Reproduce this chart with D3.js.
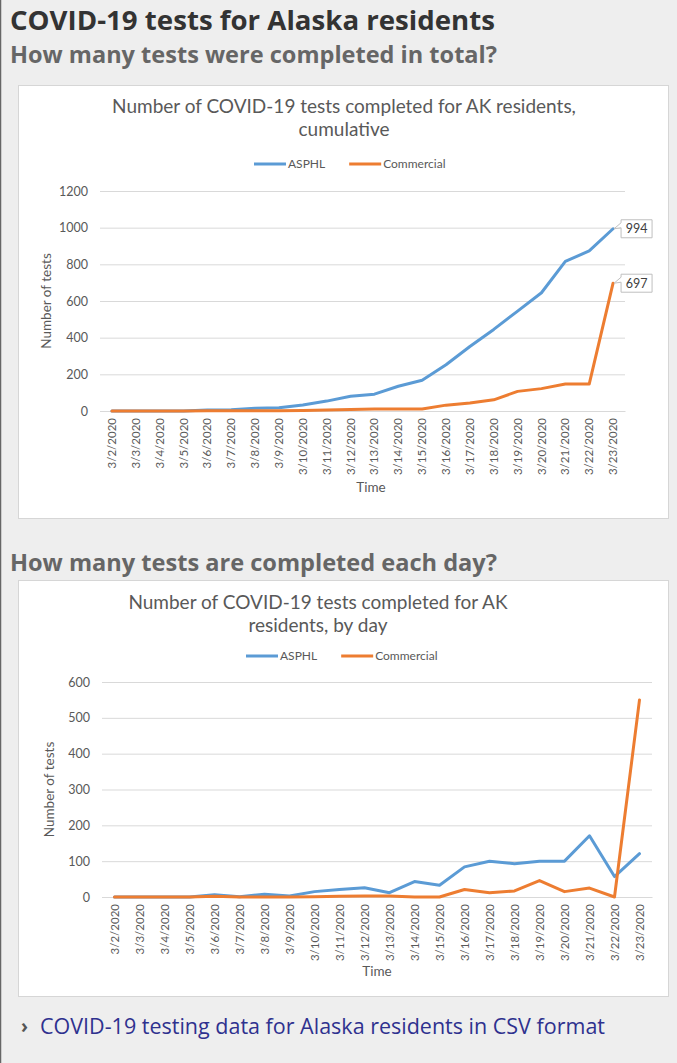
<!DOCTYPE html>
<html>
<head>
<meta charset="utf-8">
<script src="https://cdn.jsdelivr.net/npm/d3@7/dist/d3.min.js"></script>
<style>
  body { margin: 0; background: #eeeeee; }
  svg { display: block; }
</style>
</head>
<body>
<div id="page"></div>
<script>
// Data
const dates = ["3/2/2020","3/3/2020","3/4/2020","3/5/2020","3/6/2020","3/7/2020","3/8/2020","3/9/2020",
  "3/10/2020","3/11/2020","3/12/2020","3/13/2020","3/14/2020","3/15/2020","3/16/2020","3/17/2020",
  "3/18/2020","3/19/2020","3/20/2020","3/21/2020","3/22/2020","3/23/2020"]

const asphlTotal = [0,0,0,0,6,7,15,18,33,54,80,92,135,168,252,352,445,545,645,816,873,994]
const commercialTotal = [0,0,0,0,2,2,2,2,3,5,8,11,11,11,32,44,61,107,122,147,147,697]

const asphlDaily = [0,0,0,0,6,1,8,3,15,21,26,12,43,33,84,100,93,100,100,171,57,121]
const commercialDaily = [0,0,0,0,2,0,0,0,1,2,3,3,0,0,21,12,17,46,15,25,0,550]

const totalTicks = [0,200,400,600,800,1000,1200]
const dailyTicks = [0,100,200,300,400,500,600]

const seriesNames = ["ASPHL","Commercial"]
const seriesColors = ["#5b9bd5","#ed7d31"]

const W = 677, H = 1063
const chartFont = "Lato, 'Open Sans', sans-serif"
const headFont = "'Open Sans', 'Liberation Sans', sans-serif"
const textGray = "#595959"

const svg = d3.select("#page")
  .append("svg")
  .attr("width", W)
  .attr("height", H)

svg.append("rect").attr("width", W).attr("height", H).attr("fill", "#eeeeee")
svg.append("line")
  .attr("x1", 0.5).attr("x2", 0.5).attr("y1", 0).attr("y2", H)
  .attr("stroke", "#666").attr("stroke-width", 1.5)

// headings, stretched to the widths seen in the page
function heading(txt, x, y, size, color, width, bold){
  svg.append("text")
    .attr("x", x).attr("y", y)
    .attr("textLength", width).attr("lengthAdjust", "spacingAndGlyphs")
    .style("font-family", headFont).style("font-weight", bold ? "bold" : "normal")
    .style("font-size", size + "px").attr("fill", color)
    .text(txt)
}

heading("COVID-19 tests for Alaska residents", 10, 30, 27, "#333", 485, true)
heading("How many tests were completed in total?", 10, 63, 22.5, "#666", 487, true)
heading("How many tests are completed each day?", 10, 571, 22.5, "#666", 487, true)

// link at bottom
svg.append("text")
  .attr("x", 21).attr("y", 1033)
  .style("font-family", headFont).style("font-weight", "bold")
  .style("font-size", "19px").attr("fill", "#555")
  .text("›")
heading("COVID-19 testing data for Alaska residents in CSV format", 40, 1034, 21, "#2e318f", 565, false)


function drawChart(opt){
  let g = svg.append("g")

  g.append("rect")
    .attr("x", opt.box[0] + 0.5).attr("y", opt.box[1] + 0.5)
    .attr("width", opt.box[2]).attr("height", opt.box[3])
    .attr("fill", "#fff").attr("stroke", "#d6d6d6")

  // title
  opt.title.forEach(function(line, i){
    g.append("text")
      .attr("x", opt.titleX).attr("y", opt.titleY + i * 23)
      .attr("text-anchor", "middle")
      .style("font-family", chartFont).style("font-size", "19px")
      .attr("fill", textGray)
      .text(line)
  })

  // legend
  let lg = g.append("g").attr("transform", `translate(${opt.legendX},${opt.legendY})`)
  let lx = 0
  seriesNames.forEach(function(name, i){
    lg.append("line")
      .attr("x1", lx).attr("x2", lx + 32).attr("y1", 0).attr("y2", 0)
      .attr("stroke", seriesColors[i]).attr("stroke-width", 3)
    let t = lg.append("text")
      .attr("x", lx + 34).attr("y", 4)
      .style("font-family", chartFont).style("font-size", "12px")
      .attr("fill", textGray)
      .text(name)
    lx += 34 + t.node().getComputedTextLength() + 24
  })

  let x = d3.scaleBand()
    .domain(dates)
    .range([opt.plot.left, opt.plot.right])
  let cx = function(d){ return x(d) + x.bandwidth() / 2 }

  let y = d3.scaleLinear()
    .domain([0, d3.max(opt.ticks)])
    .range([opt.plot.bottom, opt.plot.top])

  // y axis + gridlines
  let yAxis = g.append("g")
    .attr("transform", `translate(${opt.plot.left},0)`)
    .call(d3.axisLeft(y)
      .tickValues(opt.ticks)
      .tickFormat(d3.format("d"))
      .tickSize(-(opt.plot.right - opt.plot.left))
      .tickPadding(12))
  yAxis.select(".domain").remove()
  yAxis.selectAll("line").attr("stroke", "#d9d9d9")
  yAxis.selectAll("text")
    .style("font-family", chartFont).style("font-size", "12.5px")
    .attr("fill", textGray)

  // x axis
  let xAxis = g.append("g")
    .attr("transform", `translate(0,${opt.plot.bottom})`)
    .call(d3.axisBottom(x).tickSize(0))
  xAxis.select(".domain").attr("stroke", "#d9d9d9")
  xAxis.selectAll("text")
    .attr("transform", "rotate(-90)")
    .attr("x", -7).attr("y", 0).attr("dy", "0.35em")
    .style("text-anchor", "end")
    .style("font-family", chartFont).style("font-size", "11.5px")
    .attr("fill", textGray)

  // axis titles
  g.append("text")
    .attr("x", opt.timeX).attr("y", opt.timeY)
    .attr("text-anchor", "middle")
    .style("font-family", chartFont).style("font-size", "13.5px")
    .attr("fill", textGray)
    .text("Time")

  g.append("text")
    .attr("transform", `translate(${opt.yTitleX},${(opt.plot.top + opt.plot.bottom) / 2}) rotate(-90)`)
    .attr("text-anchor", "middle")
    .style("font-family", chartFont).style("font-size", "13.5px")
    .attr("fill", textGray)
    .text("Number of tests")

  // lines
  let line = d3.line()
    .x(function(d, i){ return cx(dates[i]) })
    .y(function(d){ return y(d) })

  opt.series.forEach(function(values, i){
    g.append("path")
      .datum(values)
      .attr("d", line)
      .attr("fill", "none")
      .attr("stroke", seriesColors[i])
      .attr("stroke-width", 3)
      .attr("stroke-linejoin", "round")
      .attr("stroke-linecap", "round")
  })

  // data labels on the last point
  if(opt.endLabels){
    opt.series.forEach(function(values, i){
      let last = values[values.length - 1]
      let px = cx(dates[dates.length - 1]), py = y(last)
      let rx = px + 8, ry = py - 9, rw = 31, rh = 18
      g.append("path")
        .attr("d", `M${rx},${ry} L${rx + rw},${ry} L${rx + rw},${ry + rh} L${rx},${ry + rh} L${rx},${ry + 8} L${px + 1},${py} L${rx},${ry + 3} Z`)
        .attr("fill", "#fff").attr("stroke", "#bfbfbf")
      g.append("text")
        .attr("x", rx + rw / 2).attr("y", ry + 13.5)
        .attr("text-anchor", "middle")
        .style("font-family", chartFont).style("font-size", "12.5px")
        .attr("fill", "#404040")
        .text(last)
    })
  }
}

drawChart({
  box: [18, 85, 650, 433],
  title: ["Number of COVID-19 tests completed for AK residents,", "cumulative"],
  titleX: 344, titleY: 113,
  legendX: 254, legendY: 164,
  plot: {left: 100, right: 625, top: 191, bottom: 411},
  ticks: totalTicks,
  series: [asphlTotal, commercialTotal],
  timeX: 371, timeY: 492,
  yTitleX: 51,
  endLabels: true
})

drawChart({
  box: [18, 580, 650, 416],
  title: ["Number of COVID-19 tests completed for AK", "residents, by day"],
  titleX: 318, titleY: 609,
  legendX: 246, legendY: 656,
  plot: {left: 102, right: 652, top: 682, bottom: 897},
  ticks: dailyTicks,
  series: [asphlDaily, commercialDaily],
  timeX: 377, timeY: 976,
  yTitleX: 54,
  endLabels: false
})
</script>
</body>
</html>
